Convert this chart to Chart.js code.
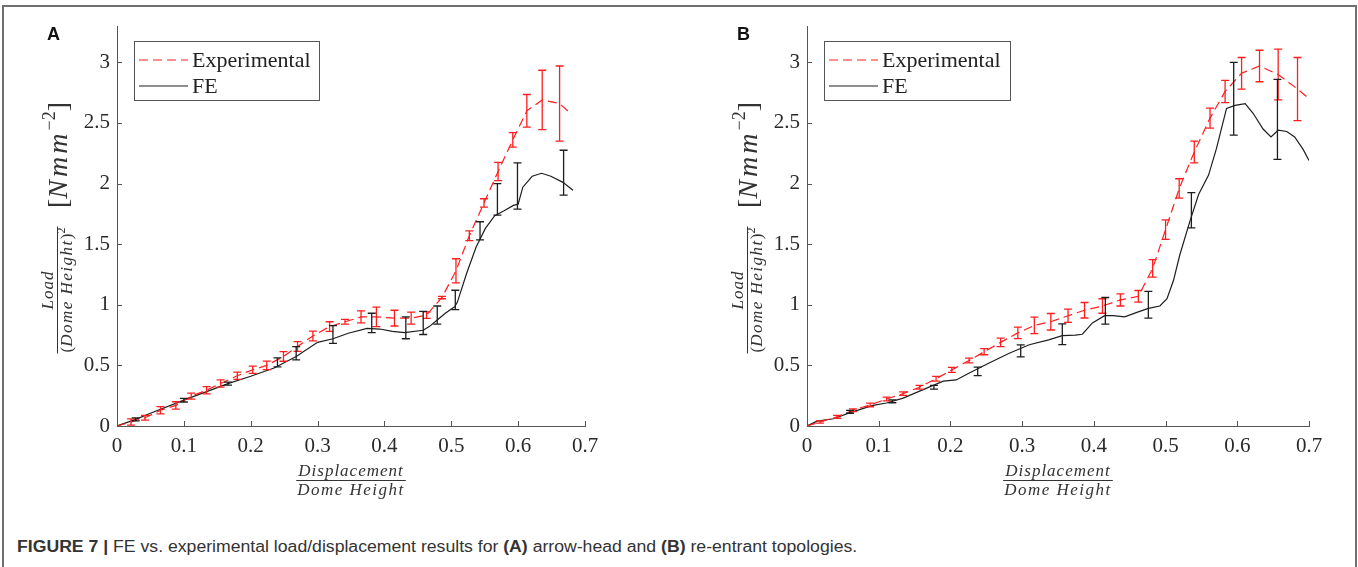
<!DOCTYPE html>
<html>
<head>
<meta charset="utf-8">
<script src="https://cdn.jsdelivr.net/npm/chart.js@4.4.0/dist/chart.umd.min.js"></script>
<style>
    html, body { margin: 0; padding: 0; background: #fff; overflow: hidden; }
    body { width: 1358px; height: 567px; position: relative; }
    #frame { position: absolute; left: 2px; top: 5px; width: 1351px; height: 620px; border: 2px solid #707070; border-bottom: none; }
    #panelA { position: absolute; left: 0; top: 0; }
    #panelB { position: absolute; left: 690px; top: 0; }
    #caption { position: absolute; left: 17px; top: 538px; font: 16px 'Liberation Sans', Arial, sans-serif; color: #333; white-space: nowrap; transform-origin: 0 0; }
</style>
</head>
<body>
<div id="frame"></div>
<canvas id="panelA" width="690" height="500"></canvas>
<canvas id="panelB" width="668" height="500"></canvas>
<div id="caption"><b>FIGURE 7 |</b> FE vs. experimental load/displacement results for <b>(A)</b> arrow-head and <b>(B)</b> re-entrant topologies.</div>

<script>
// fig7.js — FE vs experimental load/displacement (arrow-head / re-entrant)

const X_TICKS = [0, 0.1, 0.2, 0.3, 0.4, 0.5, 0.6, 0.7];
const Y_TICKS = [0, 0.5, 1, 1.5, 2, 2.5, 3];

// ---------- Panel A: arrow-head ----------
const expA_x   = [0, 0.021, 0.042, 0.065, 0.088, 0.111, 0.134, 0.155, 0.18, 0.203, 0.224, 0.249, 0.27, 0.293, 0.318, 0.341, 0.365, 0.388, 0.415, 0.44, 0.463, 0.486, 0.507, 0.527, 0.549, 0.57, 0.592, 0.613, 0.636, 0.662, 0.68];
const expA_y   = [0, 0.033, 0.068, 0.13, 0.17, 0.246, 0.295, 0.35, 0.415, 0.464, 0.5, 0.574, 0.656, 0.743, 0.82, 0.86, 0.9, 0.9, 0.89, 0.89, 0.915, 1.06, 1.28, 1.57, 1.84, 2.1, 2.36, 2.6, 2.69, 2.66, 2.57];
const expA_err = [0, 0.025, 0.02, 0.03, 0.03, 0.025, 0.03, 0.03, 0.03, 0.03, 0.035, 0.04, 0.04, 0.04, 0.04, 0.02, 0.05, 0.08, 0.065, 0.05, 0.027, 0.01, 0.1, 0.04, 0.035, 0.075, 0.06, 0.135, 0.245, 0.31, 0];

const feA_x = [0, 0.028, 0.05, 0.1, 0.166, 0.2, 0.235, 0.268, 0.3, 0.323, 0.346, 0.374, 0.393, 0.412, 0.43, 0.458, 0.467, 0.479, 0.491, 0.505, 0.509, 0.523, 0.537, 0.551, 0.565, 0.579, 0.593, 0.6, 0.607, 0.621, 0.635, 0.649, 0.667, 0.682];
const feA_y = [0, 0.055, 0.105, 0.213, 0.35, 0.41, 0.478, 0.574, 0.69, 0.72, 0.765, 0.806, 0.8, 0.78, 0.77, 0.79, 0.82, 0.874, 0.93, 0.984, 1.02, 1.26, 1.475, 1.63, 1.735, 1.776, 1.82, 1.83, 1.97, 2.06, 2.085, 2.06, 2.01, 1.945];

const feBarA_x   = [0.028, 0.1, 0.166, 0.24, 0.268, 0.323, 0.381, 0.432, 0.458, 0.479, 0.506, 0.543, 0.569, 0.599, 0.668];
const feBarA_y   = [0.055, 0.213, 0.35, 0.525, 0.6, 0.755, 0.85, 0.81, 0.85, 0.915, 1.04, 1.61, 1.87, 1.98, 2.09];
const feBarA_err = [0.012, 0.015, 0.012, 0.037, 0.055, 0.073, 0.08, 0.09, 0.095, 0.075, 0.08, 0.075, 0.13, 0.19, 0.185];

// ---------- Panel B: re-entrant ----------
const expB_x   = [0, 0.018, 0.042, 0.064, 0.088, 0.111, 0.134, 0.157, 0.18, 0.202, 0.226, 0.247, 0.27, 0.294, 0.317, 0.34, 0.364, 0.387, 0.412, 0.437, 0.462, 0.482, 0.5, 0.519, 0.54, 0.562, 0.583, 0.606, 0.631, 0.657, 0.684, 0.7];
const expB_y   = [0, 0.033, 0.076, 0.13, 0.174, 0.223, 0.267, 0.32, 0.39, 0.463, 0.54, 0.613, 0.69, 0.768, 0.83, 0.86, 0.91, 0.955, 0.99, 1.04, 1.07, 1.3, 1.62, 1.96, 2.26, 2.54, 2.76, 2.91, 2.97, 2.9, 2.78, 2.7];
const expB_err = [0, 0.01, 0.012, 0.012, 0.015, 0.015, 0.015, 0.015, 0.02, 0.02, 0.02, 0.025, 0.035, 0.047, 0.068, 0.068, 0.055, 0.064, 0.06, 0.05, 0.048, 0.072, 0.08, 0.08, 0.09, 0.083, 0.092, 0.13, 0.13, 0.21, 0.26, 0];

const feB_x = [0, 0.014, 0.037, 0.06, 0.092, 0.111, 0.134, 0.162, 0.19, 0.208, 0.227, 0.254, 0.282, 0.31, 0.337, 0.356, 0.374, 0.384, 0.398, 0.415, 0.427, 0.443, 0.46, 0.476, 0.492, 0.502, 0.511, 0.52, 0.534, 0.546, 0.56, 0.571, 0.585, 0.597, 0.611, 0.622, 0.636, 0.647, 0.657, 0.669, 0.68, 0.692, 0.7];
const feB_y = [0, 0.04, 0.06, 0.11, 0.17, 0.19, 0.23, 0.3, 0.37, 0.38, 0.44, 0.52, 0.6, 0.67, 0.71, 0.745, 0.75, 0.757, 0.85, 0.91, 0.91, 0.9, 0.937, 0.97, 0.99, 1.05, 1.2, 1.415, 1.69, 1.91, 2.07, 2.29, 2.62, 2.645, 2.66, 2.58, 2.45, 2.385, 2.44, 2.43, 2.385, 2.28, 2.19];

const feBarB_x   = [0.06, 0.119, 0.177, 0.238, 0.298, 0.356, 0.416, 0.476, 0.536, 0.595, 0.656];
const feBarB_y   = [0.117, 0.204, 0.32, 0.45, 0.62, 0.757, 0.95, 1.0, 1.78, 2.7, 2.53];
const feBarB_err = [0.012, 0.012, 0.015, 0.035, 0.05, 0.085, 0.11, 0.11, 0.145, 0.3, 0.33];

const RED = 'rgb(255,30,30)';
const BLACK = '#1e1e1e';
const AXIS = '#555';
const SERIF = "'Liberation Serif', 'Times New Roman', serif";

const pts = (xs, ys) => xs.map((x, i) => ({ x, y: ys[i] }));
const bars = (xs, ys, es) => xs.map((x, i) => ({ x, y: ys[i], err: es[i] })).filter(p => p.err > 0);

// draw a row of text pieces centred on cx, baseline at by
function drawPieces(ctx, pieces, cx, by) {
    let total = 0;
    pieces.forEach(p => {
        ctx.font = p.font;
        ctx.letterSpacing = p.ls || '0px';
        p.w = ctx.measureText(p.t).width;
        total += p.w;
    });
    let x = cx - total / 2;
    ctx.textAlign = 'left';
    ctx.textBaseline = 'alphabetic';
    pieces.forEach(p => {
        ctx.font = p.font;
        ctx.letterSpacing = p.ls || '0px';
        ctx.fillText(p.t, x, by + (p.dy || 0));
        x += p.w;
    });
    ctx.letterSpacing = '0px';
    return total;
}

// error bars, inner ticks, legend, axis titles, panel letter
const panelDecor = {
    id: 'panelDecor',
    afterDatasetsDraw(chart) {
        const { ctx, scales: { x, y } } = chart;
        chart.data.datasets.forEach(ds => {
            if (!ds.errorBars) return;
            ctx.save();
            ctx.strokeStyle = ds.borderColor;
            ctx.lineWidth = 1.3;
            ds.data.forEach(p => {
                const px = x.getPixelForValue(p.x);
                const top = y.getPixelForValue(p.y + p.err);
                const bot = y.getPixelForValue(p.y - p.err);
                ctx.beginPath();
                ctx.moveTo(px, top); ctx.lineTo(px, bot);
                ctx.moveTo(px - 4, top); ctx.lineTo(px + 4, top);
                ctx.moveTo(px - 4, bot); ctx.lineTo(px + 4, bot);
                ctx.stroke();
            });
            ctx.restore();
        });
    },
    afterDraw(chart, args, opts) {
        const { ctx, chartArea: ca, scales: { x, y } } = chart;
        ctx.save();

        // inward tick marks
        ctx.strokeStyle = AXIS;
        ctx.lineWidth = 1;
        ctx.beginPath();
        x.ticks.forEach(t => {
            const px = Math.round(x.getPixelForValue(t.value)) + 0.5;
            ctx.moveTo(px, ca.bottom); ctx.lineTo(px, ca.bottom - 5);
        });
        y.ticks.forEach(t => {
            const py = Math.round(y.getPixelForValue(t.value)) + 0.5;
            ctx.moveTo(ca.left, py); ctx.lineTo(ca.left + 5, py);
        });
        ctx.stroke();

        // legend box
        const lx = ca.left + 17, ly = 41, lw = opts.legendWidth, lh = 59;
        ctx.fillStyle = '#fff';
        ctx.fillRect(lx, ly, lw, lh);
        ctx.strokeStyle = AXIS;
        ctx.strokeRect(lx + 0.5, ly + 0.5, lw, lh);
        chart.data.datasets.filter(ds => ds.label).forEach((ds, i) => {
            const ry = ly + 19 + i * 26;
            ctx.strokeStyle = ds.borderColor;
            ctx.lineWidth = 1.2;
            ctx.setLineDash(ds.borderDash || []);
            ctx.beginPath();
            ctx.moveTo(lx + 5, ry); ctx.lineTo(lx + 54, ry);
            ctx.stroke();
            ctx.setLineDash([]);
            ctx.fillStyle = '#222';
            ctx.font = `22px ${SERIF}`;
            ctx.textAlign = 'left';
            ctx.textBaseline = 'middle';
            ctx.fillText(ds.label, lx + 58, ry + 1);
        });

        ctx.fillStyle = '#333';
        ctx.strokeStyle = '#333';

        // x title: Displacement / Dome Height
        const xc = (ca.left + ca.right) / 2;
        const it17 = `italic 17px ${SERIF}`;
        const wn = drawPieces(ctx, [{ t: 'Displacement', font: it17, ls: '1px' }], xc, 476);
        const wd = drawPieces(ctx, [{ t: 'Dome Height', font: it17, ls: '1.5px' }], xc, 495);
        const fw = Math.max(wn, wd) + 2;
        ctx.fillRect(xc - fw / 2, 480, fw, 1);

        // y title: Load / (Dome Height)^2  [Nmm^-2]
        ctx.translate(ca.left - 60, ca.bottom - 136);
        ctx.rotate(-Math.PI / 2);
        const wl = drawPieces(ctx, [{ t: 'Load', font: it17, ls: '1px' }], 0, -4);
        const wh = drawPieces(ctx, [
            { t: '(', font: `17px ${SERIF}` },
            { t: 'Dome Height', font: it17, ls: '1.5px' },
            { t: ')', font: `17px ${SERIF}` },
            { t: '2', font: `12px ${SERIF}`, dy: -7 }
        ], 0, 15);
        const yw = Math.max(wl, wh) + 2;
        ctx.fillRect(-yw / 2, 0, yw, 1);
        drawPieces(ctx, [
            { t: '[', font: `28px ${SERIF}` },
            { t: 'Nmm', font: `italic 28px ${SERIF}`, ls: '3px' },
            { t: '\u22122', font: `18px ${SERIF}`, dy: -12 },
            { t: ']', font: `28px ${SERIF}` }
        ], 135, 10);
        ctx.setTransform(1, 0, 0, 1, 0, 0);

        // panel letter
        ctx.fillStyle = '#111';
        ctx.font = "bold 18px 'Liberation Sans', Arial, sans-serif";
        ctx.textAlign = 'left';
        ctx.textBaseline = 'alphabetic';
        ctx.fillText(opts.letter, ca.left - 70, 40);

        ctx.restore();
    }
};

function makePanel(canvasId, letter, padRight, legendWidth, exp, fe, feBars) {
    const tickFont = { family: SERIF, size: 21 };
    return new Chart(document.getElementById(canvasId), {
        type: 'line',
        data: {
            datasets: [
                {
                    label: 'Experimental',
                    data: exp.line,
                    borderColor: RED,
                    borderWidth: 1.2,
                    borderDash: [9, 5],
                    pointRadius: 0,
                    tension: 0
                },
                {
                    label: 'FE',
                    data: fe,
                    borderColor: BLACK,
                    borderWidth: 1.2,
                    pointRadius: 0,
                    tension: 0
                },
                { data: exp.bars, errorBars: true, borderColor: RED, showLine: false, pointRadius: 0 },
                { data: feBars, errorBars: true, borderColor: BLACK, showLine: false, pointRadius: 0 }
            ]
        },
        options: {
            responsive: false,
            animation: false,
            events: [],
            layout: { padding: { left: 0, top: 26, right: padRight, bottom: 0 } },
            plugins: {
                legend: { display: false },
                tooltip: { enabled: false },
                panelDecor: { letter, legendWidth }
            },
            scales: {
                x: {
                    type: 'linear',
                    min: 0,
                    max: 0.7,
                    afterBuildTicks: s => { s.ticks = X_TICKS.map(v => ({ value: v })); },
                    afterFit: s => { s.height = 74; },
                    grid: { display: true, drawOnChartArea: false, drawTicks: false },
                    border: { display: true, color: AXIS, width: 1 },
                    ticks: { font: tickFont, color: '#2a2a2a', padding: 8, maxRotation: 0, callback: v => String(v) }
                },
                y: {
                    type: 'linear',
                    min: 0,
                    max: 3.3,
                    afterBuildTicks: s => { s.ticks = Y_TICKS.map(v => ({ value: v })); },
                    afterFit: s => { s.width = 117; },
                    grid: { display: true, drawOnChartArea: false, drawTicks: false },
                    border: { display: true, color: AXIS, width: 1 },
                    ticks: { font: tickFont, color: '#2a2a2a', padding: 7, callback: v => String(v) }
                }
            }
        },
        plugins: [panelDecor]
    });
}

makePanel('panelA', 'A', 105, 185,
    { line: pts(expA_x, expA_y), bars: bars(expA_x, expA_y, expA_err) },
    pts(feA_x, feA_y),
    bars(feBarA_x, feBarA_y, feBarA_err));

makePanel('panelB', 'B', 49, 186,
    { line: pts(expB_x, expB_y), bars: bars(expB_x, expB_y, expB_err) },
    pts(feB_x, feB_y),
    bars(feBarB_x, feBarB_y, feBarB_err));

// squeeze caption to the condensed width of the original
const cap = document.getElementById('caption');
cap.style.transform = `scaleX(${840 / cap.scrollWidth})`;
</script>
</body>
</html>
